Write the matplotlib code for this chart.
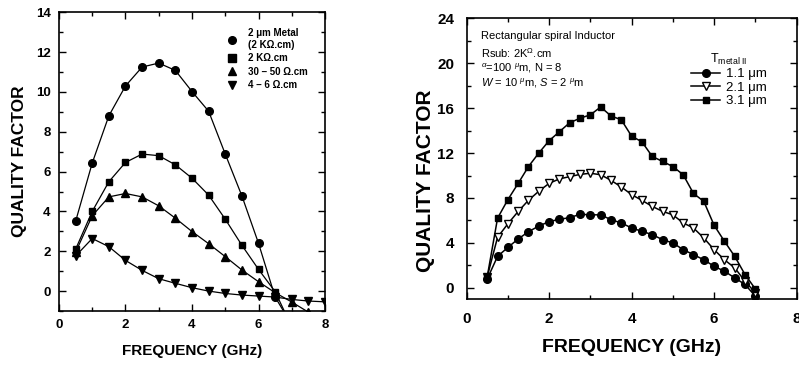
import numpy as np
import matplotlib
matplotlib.use("Agg")
import matplotlib.pyplot as plt
from matplotlib.lines import Line2D
from matplotlib.ticker import MultipleLocator

plt.rcParams['font.family'] = ['Liberation Sans', 'DejaVu Sans']
plt.rcParams['mathtext.fontset'] = 'custom'
plt.rcParams['mathtext.it'] = 'Liberation Sans:italic'
plt.rcParams['mathtext.rm'] = 'Liberation Sans'

# ---------------- left panel data ----------------
f_left = [0.5, 1.0, 1.5, 2.0, 2.5, 3.0, 3.5, 4.0, 4.5, 5.0, 5.5, 6.0, 6.5, 7.0, 7.5, 8.0]
q_metal = [3.5, 6.43, 8.8, 10.3, 11.25, 11.45, 11.08, 10.02, 9.03, 6.88, 4.78, 2.4, -0.3, -1.7]
q_2k = [2.1, 4.0, 5.49, 6.46, 6.88, 6.8, 6.34, 5.67, 4.82, 3.61, 2.3, 1.09, -0.03, -1.8]
q_30_50 = [1.95, 3.78, 4.73, 4.9, 4.73, 4.28, 3.66, 2.99, 2.38, 1.73, 1.06, 0.47, -0.08, -0.55, -1.06]
q_4_6 = [1.76, 2.64, 2.23, 1.54, 1.04, 0.62, 0.39, 0.17, 0.0, -0.12, -0.2, -0.25, -0.3, -0.42, -0.5, -0.54]
left_labels = ['2 μm Metal\n(2 KΩ.cm)', '2 KΩ.cm', '30 – 50 Ω.cm', '4 – 6 Ω.cm']

# ---------------- right panel data ----------------
f_right = [0.5, 0.75, 1.0, 1.25, 1.5, 1.75, 2.0, 2.25, 2.5, 2.75, 3.0, 3.25, 3.5, 3.75,
           4.0, 4.25, 4.5, 4.75, 5.0, 5.25, 5.5, 5.75, 6.0, 6.25, 6.5, 6.75, 7.0]
q_11 = [0.8, 2.8, 3.6, 4.35, 5.0, 5.5, 5.9, 6.1, 6.25, 6.55, 6.5, 6.5, 6.07, 5.78,
        5.33, 5.03, 4.74, 4.29, 4.0, 3.4, 2.96, 2.5, 1.92, 1.48, 0.89, 0.3, -0.74]
q_21 = [1.0, 4.5, 5.7, 6.8, 7.8, 8.6, 9.3, 9.7, 9.9, 10.1, 10.2, 10.07, 9.57, 8.98,
        8.3, 7.79, 7.25, 6.81, 6.5, 5.78, 5.33, 4.44, 3.4, 2.5, 1.78, 0.59, -0.44]
q_31 = [1.0, 6.2, 7.85, 9.3, 10.8, 12.0, 13.1, 13.9, 14.7, 15.1, 15.4, 16.1, 15.3, 14.96,
        13.5, 13.0, 11.7, 11.25, 10.8, 10.07, 8.4, 7.7, 5.57, 4.15, 2.8, 1.18, -0.1]
right_labels = ['1.1 μm', '2.1 μm', '3.1 μm']

fig = plt.figure(figsize=(7.99, 3.72), dpi=100)

# ---------------- left ----------------
ax1 = fig.add_axes([0.0738, 0.164, 0.333, 0.803])
ms = 5.5
ax1.plot(f_left[:len(q_metal)], q_metal, 'k-', marker='o', ms=ms, lw=0.9)
ax1.plot(f_left[:len(q_2k)], q_2k, 'k-', marker='s', ms=ms - 0.5, lw=0.9)
ax1.plot(f_left[:len(q_30_50)], q_30_50, 'k-', marker='^', ms=ms, lw=0.9)
ax1.plot(f_left[:len(q_4_6)], q_4_6, 'k-', marker='v', ms=ms, lw=0.9)
ax1.set_xlim(0, 8)
ax1.set_ylim(-1, 14)
ax1.xaxis.set_major_locator(MultipleLocator(2))
ax1.xaxis.set_minor_locator(MultipleLocator(1))
ax1.yaxis.set_major_locator(MultipleLocator(2))
ax1.yaxis.set_minor_locator(MultipleLocator(1))
ax1.tick_params(which='both', direction='in', top=True, right=True, labelsize=9.5, width=1)
ax1.tick_params(which='major', length=5, pad=6)
ax1.tick_params(which='minor', length=3)
for lab in ax1.get_xticklabels() + ax1.get_yticklabels():
    lab.set_fontweight('bold')
ax1.set_xlabel('FREQUENCY (GHz)', fontsize=11, fontweight='bold', labelpad=9)
ax1.set_ylabel('QUALITY FACTOR', fontsize=12.5, fontweight='bold', labelpad=6)
for s in ax1.spines.values():
    s.set_linewidth(1.2)
handles1 = [Line2D([], [], color='k', ls='none', marker=m, ms=ms) for m in ['o', 's', '^', 'v']]
leg1 = ax1.legend(handles1, left_labels, loc='upper left', bbox_to_anchor=(0.615, 0.96),
                  frameon=False, fontsize=7, handlelength=1.2, handletextpad=1.0,
                  labelspacing=0.35, borderaxespad=0)
for t in leg1.get_texts():
    t.set_fontweight('bold')

# ---------------- right ----------------
ax2 = fig.add_axes([0.584, 0.196, 0.413, 0.755])
ax2.plot(f_right, q_11, 'k-', marker='o', ms=5.5, lw=1.1, label=right_labels[0])
ax2.plot(f_right, q_21, 'k-', marker='v', ms=6, mfc='white', mec='k', lw=1.1, label=right_labels[1])
ax2.plot(f_right, q_31, 'k-', marker='s', ms=5, lw=1.1, label=right_labels[2])
ax2.set_xlim(0, 8)
ax2.set_ylim(-1, 24)
ax2.xaxis.set_major_locator(MultipleLocator(2))
ax2.xaxis.set_minor_locator(MultipleLocator(1))
ax2.yaxis.set_major_locator(MultipleLocator(4))
ax2.yaxis.set_minor_locator(MultipleLocator(2))
ax2.tick_params(which='both', direction='in', top=True, right=True, labelsize=11, width=1)
ax2.tick_params(which='major', length=5, pad=9)
ax2.tick_params(which='minor', length=3)
for lab in ax2.get_xticklabels() + ax2.get_yticklabels():
    lab.set_fontweight('bold')
ax2.set_xlabel('FREQUENCY (GHz)', fontsize=14, fontweight='bold', labelpad=10)
ax2.set_ylabel('QUALITY FACTOR', fontsize=15, fontweight='bold')
ax2.yaxis.set_label_coords(-0.095, 0.42)
for s in ax2.spines.values():
    s.set_linewidth(1.2)

ax2.text(0.045, 0.955, 'Rectangular spiral Inductor', transform=ax2.transAxes, fontsize=8, va='top')
ax2.text(0.045, 0.90, 'Rsub: 2K$^{Ω}$.cm', transform=ax2.transAxes, fontsize=8, va='top')
ax2.text(0.045, 0.846, '$^{α}$=100 $^{μ}$m, N = 8', transform=ax2.transAxes, fontsize=8, va='top')
ax2.text(0.045, 0.792, '$\\it{W}$ = 10 $^{μ}$m, $\\it{S}$ = 2 $^{μ}$m', transform=ax2.transAxes,
         fontsize=8, va='top')

leg2 = ax2.legend(loc='upper left', bbox_to_anchor=(0.665, 0.9), frameon=False, fontsize=9.5,
                  handlelength=2.2, handletextpad=0.4, labelspacing=0.1, borderaxespad=0,
                  title='T$_{\\rm metal\\ II}$', title_fontsize=9)

fig.savefig('out.png', dpi=100)
